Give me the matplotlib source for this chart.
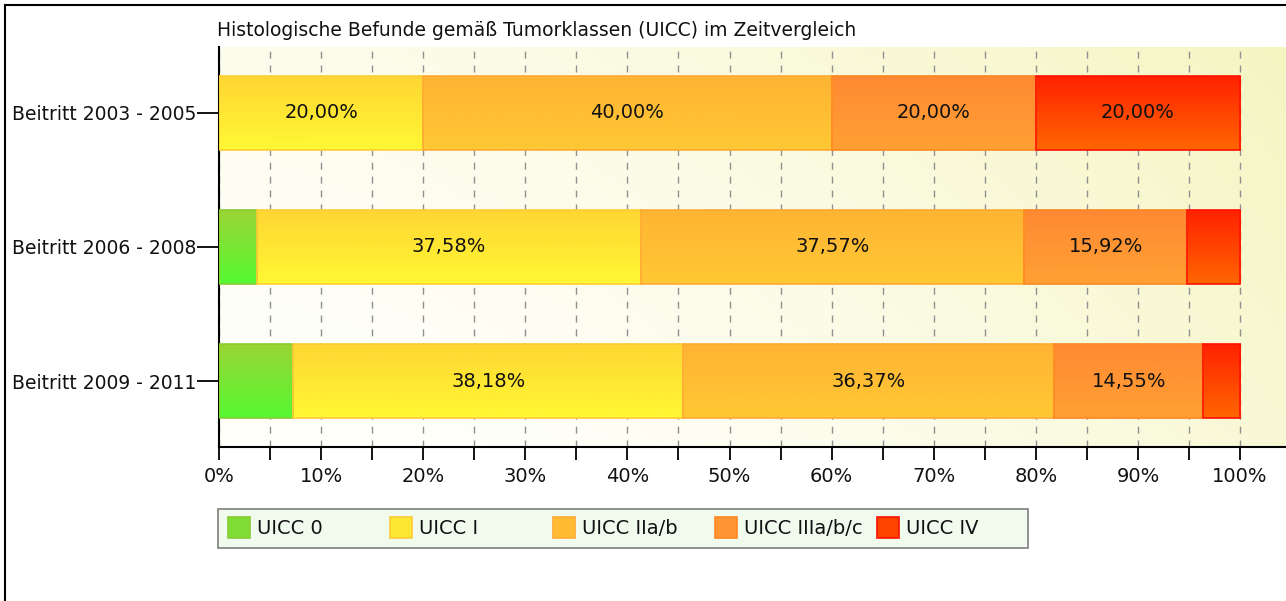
import numpy as np
import matplotlib
matplotlib.use('Agg')
import matplotlib.pyplot as plt
from matplotlib.colors import to_rgb
from matplotlib.patches import Rectangle
from matplotlib.lines import Line2D
from matplotlib.ticker import FuncFormatter, MultipleLocator

plt.rcParams['font.family'] = ['DejaVu Sans']

# Daten
kategorien = ['Beitritt 2003 - 2005', 'Beitritt 2006 - 2008', 'Beitritt 2009 - 2011']
klassen = ['UICC 0', 'UICC I', 'UICC IIa/b', 'UICC IIIa/b/c', 'UICC IV']
uicc_0 = [0.0, 3.72, 7.27]
uicc_1 = [20.00, 37.58, 38.18]
uicc_2 = [40.00, 37.57, 36.37]
uicc_3 = [20.00, 15.92, 14.55]
uicc_4 = [20.00, 5.21, 3.63]
werte = [uicc_0, uicc_1, uicc_2, uicc_3, uicc_4]

# Farben (oben, unten, Rand)
farben_oben = ['#9ad433', '#ffd633', '#ffb433', '#ff8a33', '#ff2200']
farben_unten = ['#55f833', '#fff833', '#ffc833', '#ffa033', '#ff6600']
farben_rand = ['#88cc33', '#ffcc33', '#ffaa33', '#ff8822', '#ff1100']
farben_legende = ['#7ddd33', '#ffe833', '#ffbc33', '#ff9433', '#ff4400']

W, H = 1286, 601
fig = plt.figure(figsize=(W / 100, H / 100), dpi=100)
ax = fig.add_axes([219 / W, 1 - 447 / H, 1067 / W, 400 / H])


def px(x, y):
    # Pixel -> Figurkoordinaten
    return x / W, 1 - y / H


# Hintergrund-Verlauf
gx, gy = np.meshgrid(np.linspace(0, 1, 200), np.linspace(0, 1, 100))
t = np.clip(0.75 * gx ** 1.5 + 0.35 * (1 - gy) - 0.1, 0, 1)
weiss = np.array(to_rgb('#fffffa'))
gelb = np.array(to_rgb('#f5f5c2'))
bg = weiss[None, None, :] * (1 - t[..., None]) + gelb[None, None, :] * t[..., None]
ax.imshow(bg, extent=(0, 1, 0, 1), transform=ax.transAxes, origin='upper',
          aspect='auto', zorder=0)

y = np.arange(len(kategorien))
links = np.zeros(len(kategorien))
hoehe = 0.55
for i, reihe in enumerate(werte):
    bars = ax.barh(y, reihe, left=links, height=hoehe, color=farben_legende[i],
                   edgecolor='none', zorder=2)
    for b, v in zip(bars, reihe):
        if v <= 0:
            continue
        x0, y0, w, h = b.get_x(), b.get_y(), b.get_width(), b.get_height()
        c1 = np.array(to_rgb(farben_oben[i]))
        c2 = np.array(to_rgb(farben_unten[i]))
        s = np.linspace(0, 1, 64)[:, None, None]
        grad = np.repeat(c1 * (1 - s) + c2 * s, 2, axis=1)
        ax.imshow(grad, extent=(x0, x0 + w, y0 + h, y0), origin='upper',
                  aspect='auto', zorder=3, interpolation='bilinear')
        ax.add_patch(Rectangle((x0, y0), w, h, fill=False,
                               edgecolor=farben_rand[i], lw=1.2, zorder=4))
        if v >= 10:
            ax.text(x0 + w / 2, y0 + h / 2, f'{v:.2f}%'.replace('.', ','),
                    ha='center', va='center', fontsize=14, color='#111111',
                    zorder=5)
    links += np.array(reihe)

ax.set_xlim(0, 104.5)
ax.set_ylim(2.49, -0.49)
ax.set_yticks(y)
ax.set_yticklabels(kategorien, fontsize=13.5, color='#111111')
ax.xaxis.set_major_locator(MultipleLocator(10))
ax.xaxis.set_minor_locator(MultipleLocator(5))
ax.xaxis.set_major_formatter(FuncFormatter(lambda v, p: f'{v:.0f}%'))
ax.tick_params(axis='x', which='both', length=9.5, width=1.3, labelsize=14,
               pad=5, labelcolor='#111111')
ax.tick_params(axis='y', length=16, width=1.3, pad=0)

for g in np.arange(0, 101, 5):
    ax.axvline(g, color='#909090', lw=1, ls=(0, (5, 5)), zorder=1)

for sp in ['top', 'right']:
    ax.spines[sp].set_visible(False)
ax.spines['left'].set_linewidth(1.5)
ax.spines['bottom'].set_linewidth(1.5)

fig.text(*px(217, 36), 'Histologische Befunde gemäß Tumorklassen (UICC) im Zeitvergleich',
         ha='left', va='baseline', fontsize=13.5, color='#111111')

# Legende (feste Spaltenbreite wie im Original)
lx0, ly0, lx1, ly1 = 218, 509, 1028, 548
fx, fy = px(lx0, ly1)
fig.add_artist(Rectangle((fx, fy), (lx1 - lx0) / W, (ly1 - ly0) / H,
                         transform=fig.transFigure, facecolor='#f0fbee',
                         edgecolor='#888888', lw=1.3))
schritt = 162.3
for i, name in enumerate(klassen):
    sx = 228 + i * schritt
    qx, qy = px(sx, 538)
    fig.add_artist(Rectangle((qx, qy), 22 / W, 21 / H, transform=fig.transFigure,
                             facecolor=farben_legende[i], edgecolor=farben_rand[i],
                             lw=1.2))
    fig.text(*px(sx + 29, 528), name, ha='left', va='center', fontsize=14,
             color='#111111')

# Rahmen
fig.add_artist(Line2D([5 / W, 5 / W], [0, 1 - 5 / H], color='black', lw=1.5))
fig.add_artist(Line2D([5 / W, 1], [1 - 5 / H, 1 - 5 / H], color='black', lw=1.5))

fig.savefig('out.png', dpi=100)
